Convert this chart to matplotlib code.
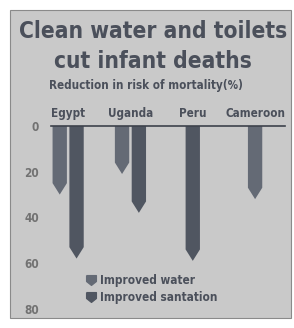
import matplotlib.pyplot as plt
from matplotlib.patches import Polygon, Rectangle
from matplotlib.lines import Line2D
from matplotlib.path import Path

# Reduction in risk of mortality (%), None = no bar shown
countries = ["Egypt", "Uganda", "Peru", "Cameroon"]
water = [30, 21, None, 32]
sanitation = [58, 38, 59, None]
yticks = [0, 20, 40, 60, 80]

BG = "#c9c9c9"
WATER_C = "#646a75"
SAN_C = "#505661"
TEXT_C = "#4b505b"
FAM = ["DejaVu Sans"]

fig = plt.figure(figsize=(2.94, 3.28), dpi=100)
fig.patch.set_facecolor("white")
W, H = 294, 328

def fx(px):
    return px / W

def fy(py):
    return 1 - py / H

# grey panel
fig.patches.append(Rectangle((fx(10), fy(318)), fx(281), 308 / H, transform=fig.transFigure,
                             facecolor=BG, edgecolor="#8a8a8a", lw=0.8, zorder=-5))

fig.text(fx(153), fy(32), "Clean water and toilets", ha="center", va="center",
         fontsize=16.3, fontweight="bold", fontstretch="condensed", color=TEXT_C, family=FAM)
fig.text(fx(153), fy(61), "cut infant deaths", ha="center", va="center",
         fontsize=16.3, fontweight="bold", fontstretch="condensed", color=TEXT_C, family=FAM)
fig.text(fx(146), fy(86), "Reduction in risk of mortality(%)", ha="center", va="center",
         fontsize=8.4, fontweight="semibold", fontstretch="condensed", color=TEXT_C, family=FAM)

# axes: data 0 at y=126px, x positions mapped so category 0 -> 68px
ax = fig.add_axes([fx(32), fy(318), fx(285) - fx(32), (318 - 126) / H])
ax.set_facecolor("none")
ax.set_zorder(2)
ax.set_xlim(-0.58, 3.48)
ax.set_ylim(84, 0)
for s in ax.spines.values():
    s.set_visible(False)
ax.set_xticks([])
ax.set_yticks(yticks)
ax.tick_params(axis="y", length=0, pad=-5, labelsize=8.5, labelcolor="#727272")
for lab in ax.get_yticklabels():
    lab.set_fontweight("bold")
    lab.set_fontstretch("condensed")

ax.plot([-0.27, 3.48], [0, 0], color="#3d424c", lw=1.2, clip_on=False, zorder=3)

bw = 0.23
tip = 5.0

def arrow(xc, val, color):
    x0, x1 = xc - bw / 2, xc + bw / 2
    pts = [(x0, 0), (x1, 0), (x1, val - tip), (xc, val), (x0, val - tip)]
    ax.add_patch(Polygon(pts, closed=True, facecolor=color, edgecolor="none", zorder=2))

off = 0.135
for i, (w, s) in enumerate(zip(water, sanitation)):
    if w is not None and s is not None:
        arrow(i - off, w, WATER_C)
        arrow(i + off, s, SAN_C)
    elif w is not None:
        arrow(i, w, WATER_C)
    elif s is not None:
        arrow(i, s, SAN_C)
    ax.text(i, -2.5, countries[i], ha="center", va="bottom", fontsize=8.4,
            fontweight="bold", fontstretch="condensed", color=TEXT_C)

mk = Path([(-1, 1), (1, 1), (1, -0.2), (0, -1), (-1, -0.2), (-1, 1)])
handles = [Line2D([], [], ls="none", marker=mk, markersize=7, color=WATER_C),
           Line2D([], [], ls="none", marker=mk, markersize=7, color=SAN_C)]
leg = ax.legend(handles, ["Improved water", "Improved santation"], loc="upper left",
                bbox_to_anchor=((82 - 32) / (285 - 32), 1 - (269 - 126) / 192),
                frameon=False, handlelength=0.8, handletextpad=0.35, labelspacing=0.35,
                borderaxespad=0, prop={"size": 8.5, "weight": "bold", "stretch": "condensed"})
for t in leg.get_texts():
    t.set_color(TEXT_C)

fig.savefig("out.png", dpi=100, facecolor="white")
